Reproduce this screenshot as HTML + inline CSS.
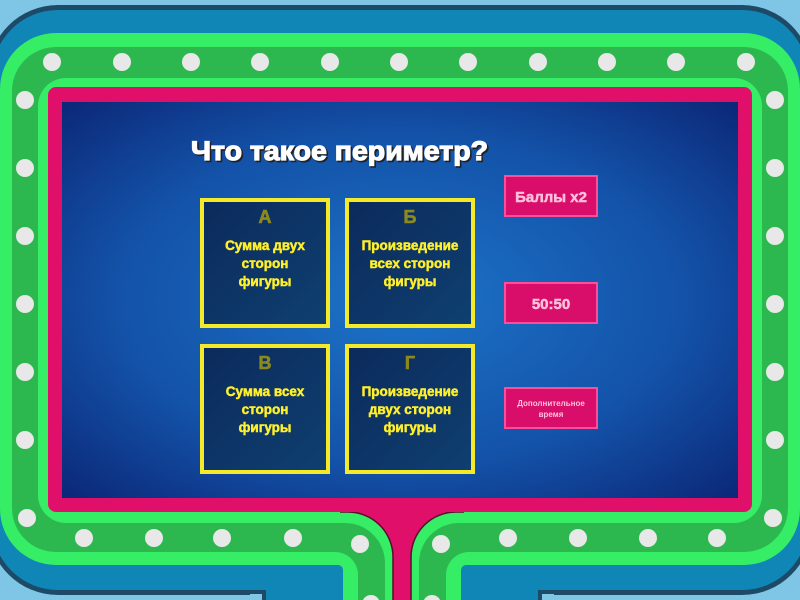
<!DOCTYPE html>
<html><head><meta charset="utf-8"><style>
html,body{margin:0;padding:0;background:#7fc6e6;}
svg{display:block}
text{font-family:"Liberation Sans","Noto Sans CJK SC",sans-serif;font-weight:bold}
</style></head><body>
<svg width="800" height="600" viewBox="0 0 800 600" xmlns="http://www.w3.org/2000/svg">
<defs>
<radialGradient id="bg" cx="0.5" cy="0.5" r="0.7">
<stop offset="0" stop-color="#1c74c8"/><stop offset="0.6" stop-color="#1352a8"/><stop offset="1" stop-color="#0c2878"/>
</radialGradient>
<linearGradient id="card" x1="0" y1="0" x2="1" y2="1">
<stop offset="0" stop-color="#0c2a5c"/><stop offset="1" stop-color="#0e4070"/>
</linearGradient>
</defs>
<rect width="800" height="600" fill="#7fc6e6"/>
<rect x="-12" y="5" width="824" height="590" rx="70" fill="#1d4a66"/>
<rect x="-8" y="10" width="816" height="580" rx="66" fill="#0f86b6"/>
<rect x="0" y="33" width="800" height="532" rx="56" fill="#35ee66"/>
<rect x="12" y="47" width="776" height="505" rx="44" fill="#2db84f"/>
<rect x="38" y="78" width="724" height="445" rx="28" fill="#35ee66"/>
<!-- bottom split around stem -->
<rect x="345" y="505" width="114" height="95" fill="#e0106a"/>
<g id="L">
<path d="M250,512 H348 A45,45 0 0 1 393,557 V600 H250 Z" fill="#35ee66"/>
<path d="M250,523 H345 A40,40 0 0 1 385,563 V600 H250 Z" fill="#2db84f"/>
<path d="M250,552 H335 A23,23 0 0 1 358,575 V600 H250 Z" fill="#35ee66"/>
<path d="M250,565 H338 A5,5 0 0 1 343,570 V600 H250 Z" fill="#0f86b6"/>
<rect x="250" y="590" width="16" height="10" fill="#1d4a66"/>
<rect x="250" y="594" width="12" height="6" fill="#7fc6e6"/>
<path d="M340,512 H348 A45,45 0 0 1 393,557 V600" fill="none" stroke="#5a0c2c" stroke-width="1.5"/>
</g>
<use href="#L" transform="translate(804,0) scale(-1,1)"/>
<rect x="48" y="87" width="704" height="425" rx="8" fill="#e0106a"/>
<rect x="62" y="102" width="676" height="396" fill="url(#bg)"/>
<g fill="#e8e8e8">
<circle cx="52" cy="62" r="9"/><circle cx="122" cy="62" r="9"/><circle cx="191" cy="62" r="9"/><circle cx="260" cy="62" r="9"/><circle cx="330" cy="62" r="9"/><circle cx="399" cy="62" r="9"/><circle cx="468" cy="62" r="9"/><circle cx="538" cy="62" r="9"/><circle cx="607" cy="62" r="9"/><circle cx="676" cy="62" r="9"/><circle cx="746" cy="62" r="9"/>
<circle cx="25" cy="100" r="9"/><circle cx="25" cy="168" r="9"/><circle cx="25" cy="236" r="9"/><circle cx="25" cy="304" r="9"/><circle cx="25" cy="372" r="9"/><circle cx="25" cy="440" r="9"/><circle cx="27" cy="518" r="9"/>
<circle cx="775" cy="100" r="9"/><circle cx="775" cy="168" r="9"/><circle cx="775" cy="236" r="9"/><circle cx="775" cy="304" r="9"/><circle cx="775" cy="372" r="9"/><circle cx="775" cy="440" r="9"/><circle cx="773" cy="518" r="9"/>
<circle cx="84" cy="538" r="9"/><circle cx="154" cy="538" r="9"/><circle cx="222" cy="538" r="9"/><circle cx="293" cy="538" r="9"/><circle cx="360" cy="544" r="9"/>
<circle cx="441" cy="544" r="9"/><circle cx="508" cy="538" r="9"/><circle cx="578" cy="538" r="9"/><circle cx="648" cy="538" r="9"/><circle cx="717" cy="538" r="9"/>
<circle cx="371" cy="604" r="9"/><circle cx="432" cy="604" r="9"/>
</g>
<text x="191" y="160" font-size="27" fill="#222" stroke="#222" stroke-width="1.5" textLength="297" lengthAdjust="spacingAndGlyphs" transform="translate(1.5,1.5)">Что такое периметр?</text>
<text x="191" y="160" font-size="27" fill="#fff" stroke="#fff" stroke-width="1.2" textLength="297" lengthAdjust="spacingAndGlyphs">Что такое периметр?</text>
<g stroke="#f5ea2a" stroke-width="4" fill="url(#card)">
<rect x="202" y="200" width="126" height="126"/>
<rect x="347" y="200" width="126" height="126"/>
<rect x="202" y="346" width="126" height="126"/>
<rect x="347" y="346" width="126" height="126"/>
</g>
<g font-size="18" fill="#8c8a1c" text-anchor="middle" stroke="#8c8a1c" stroke-width="0.6">
<text x="265" y="223">А</text><text x="410" y="223">Б</text>
<text x="265" y="369">В</text><text x="410" y="369">Г</text>
</g>
<g font-size="13.5" fill="#fff02a" text-anchor="middle" stroke="#fff02a" stroke-width="0.5">
<text x="265" y="250">Сумма двух</text><text x="265" y="268">сторон</text><text x="265" y="286">фигуры</text>
<text x="410" y="250">Произведение</text><text x="410" y="268">всех сторон</text><text x="410" y="286">фигуры</text>
<text x="265" y="396">Сумма всех</text><text x="265" y="414">сторон</text><text x="265" y="432">фигуры</text>
<text x="410" y="396">Произведение</text><text x="410" y="414">двух сторон</text><text x="410" y="432">фигуры</text>
</g>
<g fill="#d90d6a" stroke="#ff4d9a" stroke-width="2">
<rect x="505" y="176" width="92" height="40"/>
<rect x="505" y="283" width="92" height="40"/>
<rect x="505" y="388" width="92" height="40"/>
</g>
<g fill="#ffc0dc" text-anchor="middle">
<text x="551" y="202" font-size="15" stroke="#ffc0dc" stroke-width="0.5">Баллы x2</text>
<text x="551" y="309" font-size="15" stroke="#ffc0dc" stroke-width="0.5">50:50</text>
<text x="551" y="406" font-size="8">Дополнительное</text>
<text x="551" y="417" font-size="8">время</text>
</g>
</svg>
</body></html>
